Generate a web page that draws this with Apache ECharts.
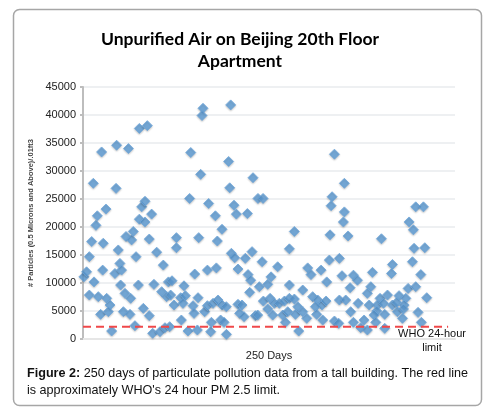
<!DOCTYPE html>
<html>
<head>
<meta charset="utf-8">
<title>Unpurified Air on Beijing 20th Floor Apartment</title>
<script src="https://cdn.jsdelivr.net/npm/echarts@6/dist/echarts.min.js"></script>
<style>
  html, body { margin: 0; padding: 0; background: #fff; }
  #chart { width: 498px; height: 419px; }
</style>
</head>
<body>
<div id="chart"></div>
<script>
// day position of each reading (x) and particle count (y)
const days = [
  0.7, 2.6, 4.6, 6.3, 7.5, 9.4, 10.4, 13.5, 16.7, 14.7, 14.3, 8, 4.6, 11.1, 17.2, 19.6, 12.8, 18.4, 20.8, 24,
  24.4, 25.6, 26.8, 23.2, 28, 27.3, 30.5, 29.3, 34.1, 33, 31.2, 35.3, 36.5, 38.5, 34.6, 40.2, 40.9, 46.7, 42.6, 45,
  40.9, 45, 49.8, 48.1, 53.5, 58.3, 51.5, 57.1, 60.7, 43.8, 48.1, 37.7, 50.6, 55.9, 59.5, 62,
  87.1, 86.4, 107.2, 78.2, 105.7, 85.4, 123.4, 106.5, 77.4, 91.2, 96.1, 109.6, 111.3, 119.3, 100.9, 67.8, 67.8, 84, 97.5, 107.7,
  110.1, 117.8, 122.7, 112.5, 96.8, 90.3, 81.1, 119.8, 121.7, 64.6, 73.3, 63.6, 70.9, 74.3, 66.1, 72.6, 83.5, 79.9, 80.6, 88.3,
  90.3, 94.4, 98, 100.9, 104, 112.5, 115.4, 113.7, 116.9, 121, 125.1, 71.4, 76.2, 83, 92.7, 93.2, 99.9, 102.4, 104.1, 62.9,
  182.5, 189.7, 127, 130.7, 180.8, 180.1, 189.7, 189, 153.4, 179.3, 149.8, 130, 141.3, 163.1, 165.5, 172.8, 178.8, 186.1, 188, 136.5,
  134.1, 128, 176.9, 149.8, 159.5, 130.9, 135.8, 138.9, 142.5, 146.2, 149.8, 153.4, 155.9, 166.7, 170.4, 173.5, 176.4, 168.7, 186.1, 134.1,
  137.7, 145, 148.6, 154.2, 159.5, 162.4, 169.6, 174, 182.5, 185.6, 156.6, 126.8, 146.9,
  192.4, 216.6, 241.5, 247.1, 236.7, 239.8, 240.3, 248.1, 239.1, 224.6, 223.9, 210.1, 196.3, 199.2, 245.2, 193.9, 208.9, 236, 241.5, 206.4,
  249.5, 215.6, 221, 229.4, 234.3, 199.7, 207.7, 213.7, 218.1, 224.6, 227.7, 233.1, 213.2, 219, 228.2, 232.6, 194.3, 211.3, 243.2, 231.9,
  204, 196.3, 212.5, 201.6, 206.4, 219, 245.6, 190.7
];
const particleCounts = [
  11100, 12000, 14700, 17400, 27800, 20300, 22000, 33400, 23200, 17100, 12300, 10200, 7850, 7560, 7260, 6070, 4400, 4880, 1430, 26900,
  34600, 15900, 13500, 11700, 12300, 9640, 8150, 4880, 4400, 34000, 18300, 17700, 19200, 14700, 7260, 9640, 37600, 38100, 23600, 24600,
  21400, 20900, 22300, 17850, 15500, 13200, 9760, 8450, 7560, 5470, 4170, 2380, 1010, 1310, 2020, 10200,
  41200, 39900, 41800, 33300, 31700, 29400, 28800, 27000, 25100, 24200, 22000, 23900, 22300, 22400, 19600, 18100, 16300, 18100, 17500, 15300,
  14500, 14400, 15600, 12500, 12700, 12300, 11600, 11500, 10500, 10400, 9500, 7850, 7380, 7740, 6070, 6370, 7380, 5950, 4580, 4880,
  5950, 6370, 6960, 6070, 5770, 6190, 6070, 4580, 3990, 8330, 4170, 3390, 1430, 1610, 1310, 2980, 3390, 2980, 830, 2200,
  33000, 27800, 25100, 25100, 25400, 23800, 22700, 20900, 19200, 18600, 16100, 13800, 12900, 12700, 11500, 12300, 14100, 14400, 11300, 11100,
  9760, 9340, 10200, 9640, 8750, 6780, 7260, 6370, 6370, 6780, 7260, 7140, 5770, 7560, 6960, 6070, 6780, 5770, 6960, 5360,
  4280, 4280, 4880, 4400, 4880, 3690, 4400, 3390, 3210, 2800, 1430, 4280, 2980,
  18400, 17900, 23600, 23600, 20900, 19500, 16200, 16300, 13800, 13300, 11700, 11900, 11400, 10500, 11500, 9160, 9340, 9040, 9340, 8150,
  7380, 7260, 7850, 7740, 7260, 6370, 6070, 6070, 6370, 6070, 6540, 6070, 5000, 4400, 4880, 5360, 4880, 4280, 4760, 3690,
  3390, 2980, 2980, 2020, 1610, 1900, 2980, 6960
];
// the WHO line: level and how far along it is drawn
const whoLimit = 2200;
const whoLineDays = [0, 265];
const yTickStep = 5000;
const yMax = 45000;

const chart = echarts.init(document.getElementById('chart'));

const points = days.map((d, i) => [d, particleCounts[i]]);

chart.setOption({
  animation: false,
  grid: { left: 83, right: 43, top: 87, bottom: 80 },
  xAxis: {
    type: 'value',
    min: 0,
    max: 270,
    name: '250 Days',
    nameLocation: 'middle',
    nameGap: 11,
    nameTextStyle: { fontFamily: 'Liberation Sans', fontSize: 11, color: '#222' },
    axisLine: { show: true, lineStyle: { color: '#e6e6e6', width: 2 } },
    axisTick: { show: false },
    axisLabel: { show: false },
    splitLine: { show: false }
  },
  yAxis: {
    type: 'value',
    min: 0,
    max: yMax,
    interval: yTickStep,
    name: '# Particles (0.5 Microns and Above)/.01ft3',
    nameLocation: 'middle',
    nameRotate: 90,
    nameGap: 47,
    nameTextStyle: { fontFamily: 'Liberation Sans', fontSize: 7.5, fontWeight: 'bold', color: '#444' },
    axisLine: { show: true, lineStyle: { color: '#bdbdbd', width: 2 } },
    axisTick: { show: true, length: 3, lineStyle: { color: '#bdbdbd', width: 2 } },
    axisLabel: {
      fontFamily: 'Liberation Sans',
      fontSize: 11,
      color: '#222',
      margin: 7,
      formatter: value => String(value)
    },
    splitLine: { lineStyle: { color: '#eef0f2', width: 2 } }
  },
  series: [
    {
      type: 'scatter',
      data: points,
      symbol: 'diamond',
      symbolSize: 10,
      itemStyle: {
        color: '#5b9bd5',
        borderColor: '#6fa8dc',
        borderWidth: 1,
        shadowColor: 'rgba(0,0,0,0.25)',
        shadowBlur: 2,
        shadowOffsetY: 1
      },
      z: 3
    },
    {
      type: 'line',
      data: whoLineDays.map(d => [d, whoLimit]),
      symbol: 'none',
      lineStyle: { color: '#f0484a', width: 2, type: [8, 5] },
      z: 4
    }
  ],
  graphic: [
    {
      type: 'rect',
      shape: { x: 13.5, y: 9.5, width: 468, height: 396, r: 6 },
      style: { fill: 'none', stroke: '#a6a6a6', lineWidth: 1.5 },
      silent: true
    },
    {
      type: 'text',
      x: 240,
      y: 28,
      style: {
        text: 'Unpurified Air on Beijing 20th Floor\nApartment',
        fontFamily: 'Lato',
        fontWeight: 'bold',
        fontSize: 17.5,
        lineHeight: 22,
        fill: '#000',
        textAlign: 'center'
      }
    },
    {
      type: 'text',
      x: 432,
      y: 327,
      style: {
        text: 'WHO 24-hour\nlimit',
        fontFamily: 'Liberation Sans',
        fontSize: 11,
        lineHeight: 14,
        fill: '#111',
        textAlign: 'center'
      }
    },
    {
      type: 'text',
      x: 27,
      y: 365,
      style: {
        text: '{b|Figure 2:} 250 days of particulate pollution data from a tall building. The red line\nis approximately WHO\'s 24 hour PM 2.5 limit.',
        fontFamily: 'Liberation Sans',
        fontSize: 12.6,
        lineHeight: 17,
        fill: '#111',
        rich: {
          b: { fontFamily: 'Liberation Sans', fontSize: 12.6, fontWeight: 'bold', fill: '#111' }
        }
      }
    }
  ]
});
</script>
</body>
</html>
